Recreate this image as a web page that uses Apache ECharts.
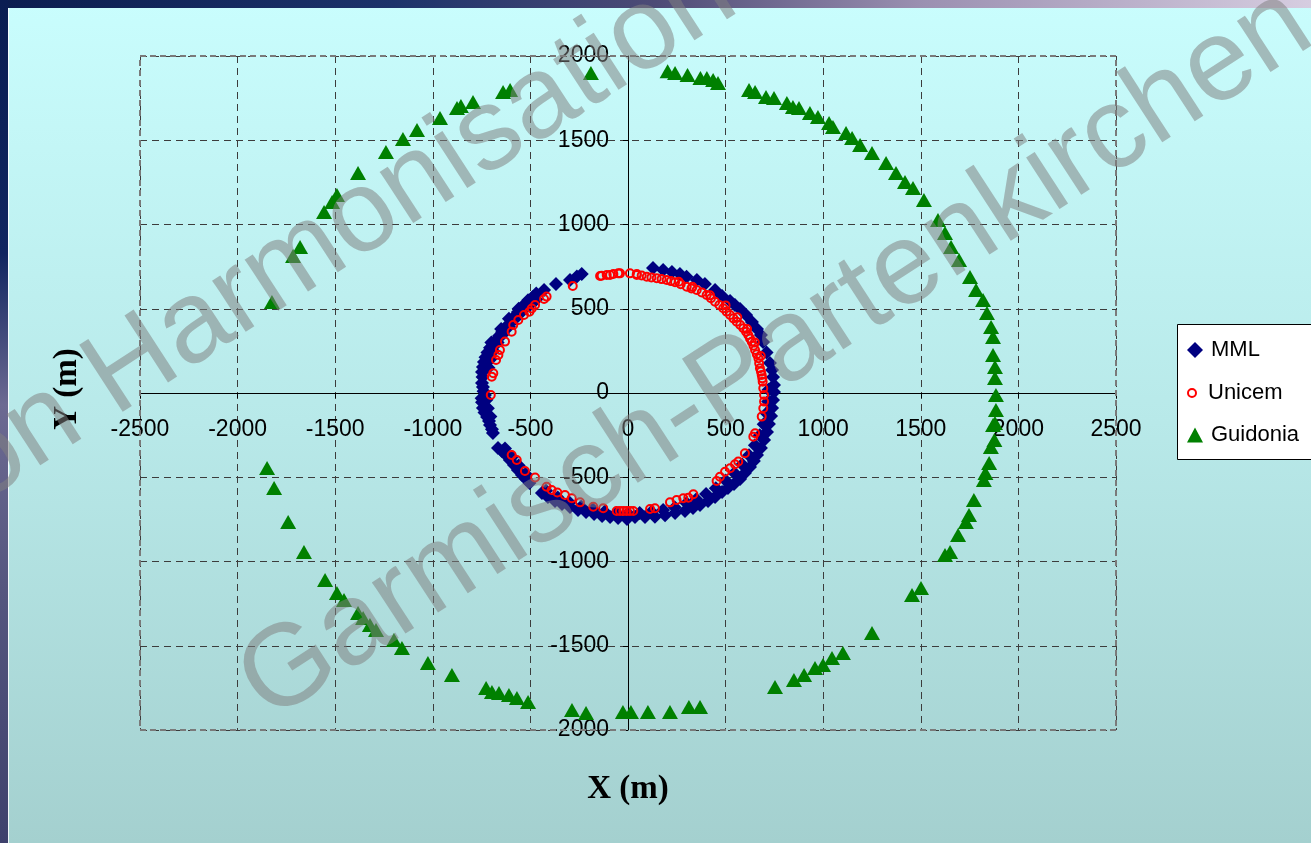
<!DOCTYPE html>
<html>
<head>
<meta charset="utf-8">
<script src="https://cdn.jsdelivr.net/npm/echarts@6/dist/echarts.min.js"></script>
<style>
  html, body { margin: 0; padding: 0; background: #ffffff; }
  #chart { width: 1311px; height: 843px; }
</style>
</head>
<body>
<div id="chart"></div>
<script>
// Axis ranges (metres)
const xRange = [-2500, 2500];
const yRange = [-2000, 2000];
const axisStep = 500;

// Series names
const seriesNames = ['MML', 'Unicem', 'Guidonia'];

// MML receptor positions [x, y] in metres
const mmlPoints = [
  [-237,706],[-262,692],[-297,671],[-369,647],[-430,611],[-470,590],[-487,570],[-512,550],[-530,525],[-548,504],
  [-564,480],[-580,455],[-596,430],[-615,404],[-630,385],[-645,362],[-660,340],[-676,315],[-692,292],[-707,268],
  [-720,240],[-730,212],[-738,184],[-743,154],[-748,125],[-745,95],[-748,60],[-743,36],[-740,10],[-733,-12],
  [-560,500],[-610,440],[-650,380],[-700,300],
  [-715,150],[-705,200],[-690,250],[-668,300],[-640,350],[-610,395],[-578,440],[-545,480],[-505,520],[-470,555],
  [-750,-31],[-748,-55],[-743,-89],[-735,-115],[-722,-142],[-712,-166],[-707,-190],[-697,-215],[-692,-237],
  [-725,-40],[-718,-90],[-705,-140],
  [-666,-326],[-645,-345],[-625,-368],[-605,-398],[-584,-427],[-564,-457],[-543,-487],[-523,-510],[-505,-534],
  [-630,-330],[-595,-380],[-560,-430],[-525,-480],
  [-441,-593],[-410,-617],[-374,-641],[-338,-659],[-297,-677],[-256,-694],[-215,-706],[-174,-718],[-133,-730],
  [-92,-736],[-51,-742],[-5,-748],
  [-420,-580],[-360,-620],[-300,-650],[-240,-675],[-180,-692],[-120,-705],[-60,-712],
  [36,-736],[87,-736],[138,-734],[190,-726],[241,-712],[292,-700],[333,-682],[369,-665],[410,-641],[446,-617],
  [482,-588],[512,-564],[543,-540],[574,-510],[599,-475],[625,-439],[645,-404],[661,-368],[681,-326],[697,-279],
  [712,-231],[722,-184],[733,-136],[738,-89],[743,-42],[748,6],
  [0,-715],[60,-712],[120,-705],[180,-695],[240,-680],[300,-655],[350,-630],[400,-600],[450,-565],[500,-520],
  [545,-475],[585,-425],[620,-370],[650,-310],[675,-250],[695,-185],[710,-120],[718,-50],[720,20],
  [748,47],[743,95],[738,136],[727,178],[710,240],[692,303],[681,344],[661,380],[635,421],[605,463],
  [574,499],[548,522],[523,546],[482,576],[446,611],[394,647],[353,671],[300,690],[266,706],[225,718],
  [180,730],[128,742]
];

// Unicem receptor positions [x, y] in metres
const unicemPoints = [
  [-283,635],[-143,694],[-135,696],[-109,700],[-92,700],[-75,706],[-50,710],[-41,710],[10,710],[45,706],
  [45,700],[70,697],[96,690],[120,686],[147,681],[172,676],[198,671],[220,664],[241,657],[260,660],
  [270,645],[301,631],[325,620],[330,630],[352,611],[378,597],[403,582],[420,580],[425,562],[446,542],
  [468,522],[488,503],[500,520],[505,483],[523,463],[540,443],[557,423],[560,450],[575,404],[591,384],
  [605,364],[610,380],[616,344],[625,324],[634,304],[643,280],[650,300],[651,255],[660,230],[668,206],
  [672,177],[676,147],[680,220],[681,127],[685,107],[688,87],[690,67],[693,28],[697,-12],[697,-51],
  [693,-91],[685,-140],[651,-239],[642,-259],[599,-358],[565,-407],[548,-423],[523,-447],[497,-467],[471,-497],
  [454,-522],[335,-601],[309,-621],[283,-625],[249,-635],[215,-649],[138,-684],[113,-688],[27,-700],[10,-700],
  [-7,-700],[-24,-700],[-41,-700],[-58,-700],[-127,-684],[-178,-675],[-246,-649],[-288,-625],[-323,-605],[-362,-590],
  [-391,-576],[-417,-556],[-476,-502],[-528,-463],[-570,-398],[-596,-368],[-703,-12],[-698,97],[-690,117],[-676,196],
  [-664,226],[-656,255],[-630,305],[-596,364],[-588,404],[-562,433],[-533,463],[-505,482],[-493,502],[-476,522],
  [-430,558],[-417,572]
];

// Guidonia receptor positions [x, y] in metres
const guidoniaPoints = [
  [-190,1899],[-604,1798],[-640,1786],[-794,1727],[-856,1703],[-876,1691],[-963,1632],[-1081,1561],[-1153,1507],
  [-1240,1430],[-1383,1305],[-1491,1175],[-1516,1134],[-1557,1074],[-1680,867],[-1716,813],[-1824,540],
  [-1849,-445],[-1813,-564],[-1741,-765],[-1660,-944],[-1552,-1110],[-1491,-1187],[-1455,-1228],[-1383,-1306],
  [-1357,-1335],[-1322,-1377],[-1291,-1407],[-1199,-1466],[-1158,-1513],[-1025,-1602],[-902,-1674],[-727,-1751],
  [-697,-1774],[-661,-1780],[-610,-1792],[-569,-1810],[-512,-1834],[-287,-1881],[-215,-1899],[-26,-1893],
  [15,-1893],[102,-1893],[215,-1893],[312,-1863],[369,-1863],
  [753,-1745],[850,-1703],[902,-1674],[958,-1632],[999,-1614],[1045,-1573],[1101,-1543],[1250,-1424],[1455,-1199],
  [1501,-1157],[1624,-961],[1650,-944],[1691,-843],[1731,-766],[1747,-724],[1772,-635],[1823,-516],[1831,-475],
  [1850,-415],[1859,-320],[1877,-279],[1870,-190],
  [1880,-178],[1885,-101],[1885,-12],[1880,89],[1880,154],[1870,225],[1870,332],[1860,392],[1839,475],[1819,552],
  [1783,611],[1752,688],[1696,789],[1655,867],[1624,950],[1588,1027],[1516,1145],[1460,1217],[1419,1252],[1373,1306],
  [1322,1365],[1250,1424],[1189,1472],[1148,1513],[1117,1543],[1050,1579],[1030,1602],[973,1638],[932,1662],[876,1691],
  [845,1697],[814,1721],[748,1751],[707,1757],[651,1786],[620,1798],[461,1840],[436,1858],[404,1869],[371,1869],
  [305,1887],[241,1899],[203,1910]
];

const SANS = 'Liberation Sans';
const SERIF = 'Liberation Serif';

const chart = echarts.init(document.getElementById('chart'), null, { renderer: 'canvas' });

const legendText = { fontFamily: SANS, fontSize: 22, color: '#000000', padding: [0, 0, 0, 3] };
const legendCommon = {
  orient: 'vertical', left: 1187, padding: 0, selectedMode: false, z: 6,
  itemWidth: 16, textStyle: legendText
};

const axisLabelStyle = { fontFamily: SANS, fontSize: 23, color: '#000000', formatter: v => String(v) };
const gridLineStyle = { color: '#3c3c3c', width: 1, type: [7, 5] };

chart.setOption({
  animation: false,
  backgroundColor: {
    type: 'linear', x: 0, y: 0, x2: 0, y2: 1,
    colorStops: [
      { offset: 0, color: '#c9fdfd' },
      { offset: 0.5, color: '#b8e9e9' },
      { offset: 1, color: '#a4d0cf' }
    ]
  },
  grid: { left: 140, right: 195, top: 56, bottom: 113 },
  xAxis: {
    type: 'value', min: xRange[0], max: xRange[1], interval: axisStep, position: 'bottom',
    axisLine: { onZero: false, lineStyle: { color: '#000000', width: 1 } },
    axisTick: { show: true, length: 5, lineStyle: { color: '#000000' } },
    axisLabel: Object.assign({ margin: 25 }, axisLabelStyle),
    splitLine: { show: true, lineStyle: gridLineStyle }
  },
  yAxis: {
    type: 'value', min: yRange[0], max: yRange[1], interval: axisStep, position: 'left',
    axisLine: { onZero: false, lineStyle: { color: '#000000', width: 1 } },
    axisTick: { show: true, length: 5, lineStyle: { color: '#000000' } },
    axisLabel: Object.assign({ margin: 19 }, axisLabelStyle),
    splitLine: { show: true, lineStyle: gridLineStyle }
  },
  legend: [
    Object.assign({}, legendCommon, { data: [seriesNames[0]], top: 339, itemHeight: 16 }),
    Object.assign({}, legendCommon, {
      data: [{ name: seriesNames[1], itemStyle: { color: 'rgba(255,0,0,0)', borderColor: '#ff0000', borderWidth: 2 } }],
      top: 382, itemHeight: 8
    }),
    Object.assign({}, legendCommon, { data: [seriesNames[2]], top: 424, itemHeight: 15 })
  ],
  series: [
    {
      name: seriesNames[0], type: 'scatter', data: mmlPoints,
      symbol: 'diamond', symbolSize: 14, silent: true,
      itemStyle: { color: '#000080', opacity: 1 }
    },
    {
      name: seriesNames[1], type: 'scatter', data: unicemPoints,
      symbol: 'circle', symbolSize: 8, silent: true,
      itemStyle: { color: 'rgba(255,0,0,0)', borderColor: '#ff0000', borderWidth: 2, opacity: 1 }
    },
    {
      name: seriesNames[2], type: 'scatter', data: guidoniaPoints,
      symbol: 'triangle', symbolSize: [16, 14], silent: true,
      itemStyle: { color: '#008000', opacity: 1 }
    }
  ]
});

// Axes cross at the origin: shift each axis (line, ticks, labels) onto the other's zero
const topLeft = chart.convertToPixel({ gridIndex: 0 }, [xRange[0], yRange[1]]);
const bottomRight = chart.convertToPixel({ gridIndex: 0 }, [xRange[1], yRange[0]]);
const origin = chart.convertToPixel({ gridIndex: 0 }, [0, 0]);
chart.setOption({
  xAxis: { offset: -(bottomRight[1] - origin[1]) },
  yAxis: { offset: -(origin[0] - topLeft[0]) }
});

const W = chart.getWidth(), H = chart.getHeight();
const deg = Math.PI / 180;
const watermarkFill = 'rgba(128,128,128,0.53)';

chart.setOption({
  graphic: [
    // slide edge strips
    {
      type: 'rect', silent: true, z: 1,
      shape: { x: 0, y: 0, width: W, height: 8 },
      style: { fill: new echarts.graphic.LinearGradient(0, 0, 1, 0, [
        { offset: 0, color: '#0b1d4f' }, { offset: 0.3, color: '#1c336a' },
        { offset: 0.5, color: '#4d4b76' }, { offset: 0.7, color: '#9a8fb0' },
        { offset: 1, color: '#d6cde0' }
      ]) }
    },
    {
      type: 'rect', silent: true, z: 1,
      shape: { x: 0, y: 0, width: 8, height: H },
      style: { fill: new echarts.graphic.LinearGradient(0, 0, 0, 1, [
        { offset: 0, color: '#0a1d52' }, { offset: 0.3, color: '#102560' },
        { offset: 0.48, color: '#6c6a92' }, { offset: 0.7, color: '#55567f' },
        { offset: 1, color: '#3e416c' }
      ]) }
    },
    {
      type: 'rect', silent: true, z: 1,
      shape: { x: 8, y: 8, width: 1, height: H - 8 },
      style: { fill: 'rgba(255,255,255,0.85)' }
    },
    // dashed plot frame
    {
      type: 'rect', silent: true, z: 3,
      shape: { x: topLeft[0], y: topLeft[1], width: bottomRight[0] - topLeft[0], height: bottomRight[1] - topLeft[1] },
      style: { fill: null, stroke: '#7a7a7a', lineWidth: 2, lineDash: [6, 4] }
    },
    // legend box
    {
      type: 'rect', silent: true, z: 4,
      shape: { x: 1177.5, y: 324.5, width: 160, height: 135 },
      style: { fill: '#ffffff', stroke: '#000000', lineWidth: 1 }
    },
    // axis titles
    {
      type: 'text', silent: true, z: 5, x: origin[0], y: 789,
      style: { text: 'X (m)', font: 'bold 33px "' + SERIF + '"', fill: '#000000', align: 'center', verticalAlign: 'middle' }
    },
    {
      type: 'text', silent: true, z: 5, x: 67, y: 389, rotation: 90 * deg,
      style: { text: 'Y (m)', font: 'bold 33px "' + SERIF + '"', fill: '#000000', align: 'center', verticalAlign: 'middle' }
    },
    // conference watermark
    {
      type: 'text', silent: true, z: 100, x: -38, y: 478, rotation: 33 * deg,
      style: { text: 'on Harmonisation within', font: '116px "' + SANS + '"', fill: watermarkFill, align: 'left', verticalAlign: 'middle' }
    },
    {
      type: 'text', silent: true, z: 100, x: 776, y: 355, rotation: 33 * deg,
      style: { text: 'Garmisch-Partenkirchen', font: '116px "' + SANS + '"', fill: watermarkFill, align: 'center', verticalAlign: 'middle' }
    }
  ]
});
</script>
</body>
</html>
